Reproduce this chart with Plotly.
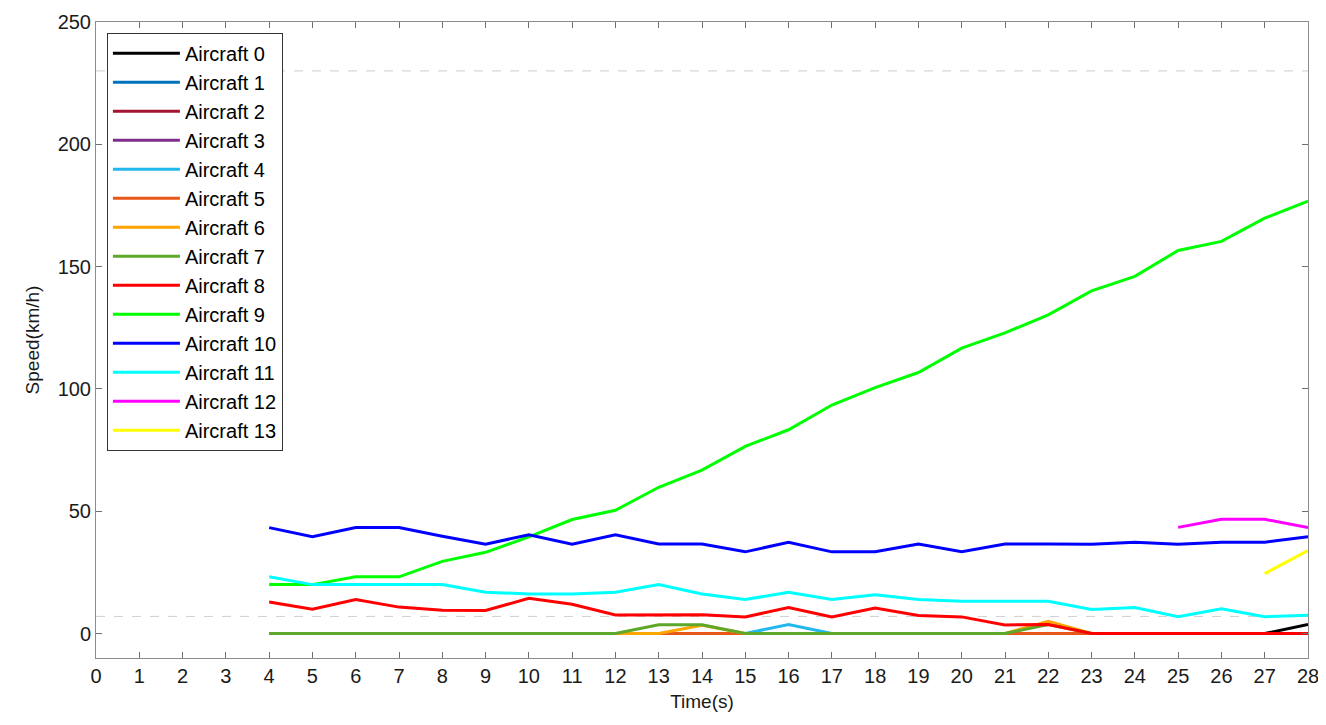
import plotly.graph_objects as go

time = list(range(4, 29))

names = [f"Aircraft {i}" for i in range(14)]
colors = ["#000000", "#0072BD", "#A2142F", "#7E2F8E", "#22B8EC", "#E8561A",
          "#FFA500", "#5DA82A", "#FF0000", "#00FF00", "#0000FF", "#00FFFF",
          "#FF00FF", "#FFFF00"]

zeros = [0.0] * 25
ac0 = [0.0] * 24 + [3.7]
ac1 = list(zeros)
ac2 = list(zeros)
ac3 = list(zeros)
#        4  5  6  7  8  9 10 11 12 13 14 15 16  17 18 19 20 21 22 23 24 25 26 27 28
ac4 = [None]*9 + [0, 0, 0, 3.7, 0, 0, 0, 0, 0, 0, 0, 0, 0, 0, 0, 0]
ac5 = list(zeros)
ac6 = [0, 0, 0, 0, 0, 0, 0, 0, 0, 0, 3.4, 0, 0, 0, 0, 0, 0, 0, 5.0, 0, 0, 0, 0, 0, 0]
ac7 = [0, 0, 0, 0, 0, 0, 0, 0, 0, 3.6, 3.6, 0, 0, 0, 0, 0, 0, 0, 3.7, 0, 0, 0, 0, 0, 0]
ac8 = [12.9, 9.9, 13.9, 10.8, 9.5, 9.4, 14.4, 12.0, 7.6, 7.7, 7.7, 6.8, 10.6, 6.8, 10.4,
       7.4, 6.8, 3.5, 3.7, 0, 0, 0, 0, 0, 0]
ac9 = [20.0, 20.0, 23.2, 23.2, 29.5, 33.2, 39.5, 46.6, 50.4, 59.8, 66.8, 76.5, 83.3, 93.4,
       100.5, 106.7, 116.7, 122.9, 130.3, 140.1, 146.0, 156.6, 160.3, 169.8, 176.8]
ac10 = [43.3, 39.6, 43.3, 43.3, 39.8, 36.5, 40.4, 36.5, 40.4, 36.6, 36.6, 33.4, 37.3,
        33.4, 33.4, 36.6, 33.4, 36.6, 36.6, 36.5, 37.3, 36.5, 37.3, 37.3, 39.6]
ac11 = [23.2, 20.0, 20.0, 20.0, 20.0, 16.9, 16.2, 16.2, 16.9, 20.0, 16.2, 13.9, 16.9,
        13.9, 15.9, 13.9, 13.2, 13.2, 13.2, 9.8, 10.6, 6.9, 10.1, 6.9, 7.5]
ac12 = [None]*21 + [43.4, 46.7, 46.7, 43.3]
ac13 = [None]*23 + [24.5, 33.9]

series = [ac0, ac1, ac2, ac3, ac4, ac5, ac6, ac7, ac8, ac9, ac10, ac11, ac12, ac13]

ref_lines = [230, 7]

FONT = "Liberation Sans, Arial"

fig = go.Figure()
for name, color, ys in zip(names, colors, series):
    fig.add_trace(go.Scatter(x=time, y=ys, mode="lines", name=name,
                             legendgroup=name,
                             line=dict(color=color, width=3)))

for v in ref_lines:
    fig.add_hline(y=v, line=dict(color="#cfcfcf", width=1, dash="dash"), layer="below")

axis_common = dict(
    showgrid=False, zeroline=False, showline=True, linecolor="#8c8c8c", linewidth=1,
    mirror="ticks", ticks="inside", ticklen=6, tickcolor="#707070",
    tickfont=dict(family=FONT, size=20, color="#1a1a1a"),
    automargin=False, ticklabeloverflow="allow",
)

fig.update_xaxes(range=[0, 28], dtick=1, tick0=0,
                 title=dict(text="Time(s)", font=dict(family=FONT, size=19, color="#1a1a1a"), standoff=8),
                 **axis_common)
fig.update_yaxes(range=[-10, 250], tickvals=[0, 50, 100, 150, 200, 250],
                 title=dict(text="Speed(km/h)", font=dict(family=FONT, size=19, color="#1a1a1a"), standoff=12),
                 **axis_common)

fig.update_layout(
    width=1310, height=709,
    margin=dict(l=88, r=10, t=14, b=59),
    plot_bgcolor="white", paper_bgcolor="white",
    legend=dict(x=0.009, y=0.983, xanchor="left", yanchor="top",
                bordercolor="#333333", borderwidth=1, bgcolor="white",
                font=dict(family=FONT, size=20, color="#000000"),
                tracegroupgap=0, itemwidth=67),
    showlegend=True,
)

fig.write_html("out.html")
